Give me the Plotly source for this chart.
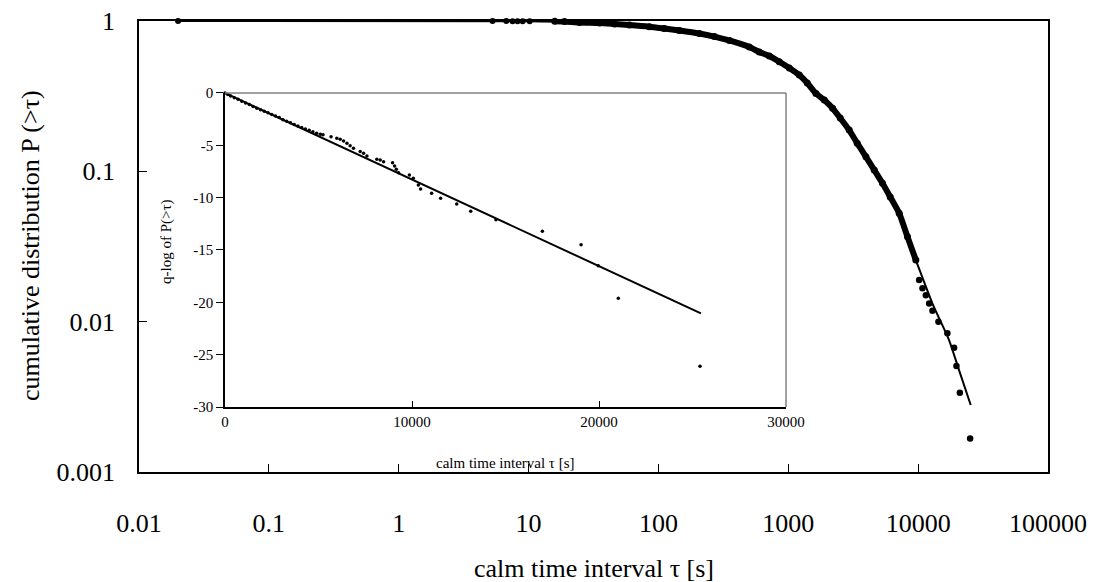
import plotly.graph_objects as go

# ---------------- data ----------------
# main panel: cumulative distribution P(>tau) vs calm time interval tau [s]
sparse_tau = [0.02, 5.28, 6.73, 7.53, 8.23, 9.0, 10.2]
sparse_P = [1.0, 0.999, 0.999, 0.998, 0.998, 0.998, 0.997]

dense_tau = [15.9, 18.9, 24.7, 35.2, 45.9, 59.8, 85.3, 111, 145, 207, 270, 352,
             501, 598, 714, 853, 1018, 1216, 1400, 1633, 1892, 2193, 2512, 2945,
             3394, 3963, 4592, 5315, 6095, 7147, 8279, 9598]
dense_P = [0.995, 0.992, 0.977, 0.970, 0.955, 0.940, 0.916, 0.891, 0.865, 0.826,
           0.788, 0.742, 0.671, 0.622, 0.585, 0.536, 0.487, 0.437, 0.387, 0.330,
           0.298, 0.263, 0.226, 0.188, 0.154, 0.125, 0.102, 0.0832, 0.0675,
           0.0526, 0.0367, 0.0257]

tail_tau = [10180, 10800, 11460, 12160, 12890, 14330, 16790, 18920, 19720, 20950, 25130]
tail_P = [0.0189, 0.0167, 0.0150, 0.0132, 0.0118, 0.0100, 0.00836, 0.0067,
          0.00507, 0.00336, 0.00167]

fit_tau = [0.02, 10, 35, 85, 207, 352, 598, 1018, 1633, 2512, 3963, 5315, 7147,
           9598, 12890, 17300, 20650, 25400]
fit_P = [1.0, 0.995, 0.975, 0.93, 0.84, 0.75, 0.63, 0.48, 0.33, 0.225, 0.123,
         0.0832, 0.050, 0.0257, 0.0132, 0.00755, 0.00476, 0.00279]

main_xticks = [0.01, 0.1, 1, 10, 100, 1000, 10000, 100000]
main_xticktext = ["0.01", "0.1", "1", "10", "100", "1000", "10000", "100000"]
main_yticks = [0.001, 0.01, 0.1, 1]
main_yticktext = ["0.001", "0.01", "0.1", "1"]

# inset: q-log of P(>tau) vs tau
inset_tau = [0, 150, 300, 500, 700, 900, 1100, 1300, 1500, 1700, 1900, 2100, 2300,
             2500, 2700, 2900, 3100, 3300, 3500, 3700, 3900, 4100, 4300, 4500,
             4700, 4900, 5100, 5240, 5670, 5980, 6160, 6340, 6520, 6690, 6870,
             7230, 7410, 7590, 8120, 8300, 8480, 8960, 9070, 9160, 9280, 9860,
             10070, 10340, 10460, 11050, 11530, 12390, 13140, 14490, 16970,
             19040, 19960, 21030, 25400]
inset_qlog = [0, -0.15, -0.28, -0.45, -0.6, -0.78, -0.95, -1.1, -1.3, -1.45, -1.6,
              -1.75, -1.9, -2.05, -2.2, -2.35, -2.55, -2.7, -2.85, -3.0, -3.15,
              -3.3, -3.45, -3.55, -3.7, -3.85, -3.95, -4.0, -4.17, -4.33, -4.42,
              -4.58, -4.80, -5.03, -5.28, -5.6, -5.76, -6.02, -6.33, -6.4, -6.56,
              -6.66, -6.97, -7.29, -7.61, -7.84, -8.15, -8.79, -9.17, -9.58,
              -10.06, -10.6, -11.3, -12.1, -13.2, -14.5, -16.5, -19.6, -26.1]
inset_fit_tau = [0, 25450]
inset_fit_qlog = [0, -21.05]

inset_xticks = [0, 10000, 20000, 30000]
inset_xticktext = ["0", "10000", "20000", "30000"]
inset_yticks = [0, -5, -10, -15, -20, -25, -30]
inset_yticktext = ["0", "-5", "-10", "-15", "-20", "-25", "-30"]

FONT = "Liberation Serif"

fig = go.Figure()

# main panel
fig.add_trace(go.Scatter(x=fit_tau, y=fit_P, mode="lines",
                         line=dict(color="black", width=2, shape="spline", smoothing=0.6),
                         xaxis="x", yaxis="y", cliponaxis=False, hoverinfo="skip"))
fig.add_trace(go.Scatter(x=sparse_tau, y=sparse_P, mode="markers", marker=dict(color="black", size=6),
                         xaxis="x", yaxis="y", cliponaxis=False))
fig.add_trace(go.Scatter(x=dense_tau, y=dense_P, mode="lines+markers",
                         line=dict(color="black", width=6, shape="spline", smoothing=0.6),
                         marker=dict(color="black", size=7), xaxis="x", yaxis="y", cliponaxis=False))
fig.add_trace(go.Scatter(x=tail_tau, y=tail_P, mode="markers", marker=dict(color="black", size=6.5),
                         xaxis="x", yaxis="y", cliponaxis=False))

# inset
fig.add_trace(go.Scatter(x=inset_fit_tau, y=inset_fit_qlog, mode="lines", line=dict(color="black", width=2),
                         xaxis="x2", yaxis="y2", hoverinfo="skip"))
fig.add_trace(go.Scatter(x=inset_tau, y=inset_qlog, mode="markers", marker=dict(color="black", size=3.5),
                         xaxis="x2", yaxis="y2", cliponaxis=False))

ix0, ix1 = 0.0946, 0.7118
iy0, iy1 = 0.1441, 0.8404

fig.update_layout(
    width=1092, height=574,
    margin=dict(l=131, r=52, t=13, b=110, autoexpand=False),
    paper_bgcolor="white", plot_bgcolor="white",
    showlegend=False,
    font=dict(family=FONT, color="black"),
    xaxis=dict(type="log", range=[-2, 5], domain=[0, 1], tickvals=main_xticks, ticktext=main_xticktext,
               ticks="inside", ticklen=8, tickwidth=1, tickcolor="black", automargin=False,
               showline=True, linecolor="black", linewidth=1.5, mirror=True,
               showgrid=False, zeroline=False, tickfont=dict(size=26, family=FONT),
               ticklabelstandoff=27, ticklabeloverflow="allow"),
    yaxis=dict(type="log", range=[-3, 0], domain=[0, 1], tickvals=main_yticks, ticktext=main_yticktext,
               ticks="inside", ticklen=8, tickwidth=1, tickcolor="black", automargin=False,
               showline=True, linecolor="black", linewidth=1.5, mirror=True,
               showgrid=False, zeroline=False, tickfont=dict(size=26, family=FONT),
               ticklabelstandoff=17, ticklabeloverflow="allow"),
    xaxis2=dict(range=[0, 30000], domain=[ix0, ix1], anchor="y2", tickvals=inset_xticks,
                ticktext=inset_xticktext, automargin=False,
                ticks="inside", ticklen=6, tickwidth=1, tickcolor="black",
                showline=True, linecolor="black", linewidth=1.5,
                showgrid=False, zeroline=False, tickfont=dict(size=15, family=FONT),
                ticklabelstandoff=0),
    yaxis2=dict(range=[-30, 0], domain=[iy0, iy1], anchor="x2", tickvals=inset_yticks,
                ticktext=inset_yticktext, automargin=False,
                ticks="outside", ticklen=7, tickwidth=1, tickcolor="black",
                showline=True, linecolor="black", linewidth=1.5,
                showgrid=False, zeroline=False, tickfont=dict(size=15, family=FONT)),
    shapes=[
        dict(type="line", xref="x2 domain", yref="y2 domain", x0=0, x1=1, y0=1, y1=1,
             line=dict(color="#808080", width=1.5)),
        dict(type="line", xref="x2 domain", yref="y2 domain", x0=1, x1=1, y0=0, y1=1,
             line=dict(color="#808080", width=1.5)),
    ],
    annotations=[
        dict(text="calm time interval τ [s]", xref="paper", yref="paper", x=0.5, y=-0.2129,
             showarrow=False, font=dict(size=26, family=FONT), xanchor="center", yanchor="middle"),
        dict(text="cumulative distribution P (>τ)", xref="paper", yref="paper", x=-0.12, y=0.503,
             showarrow=False, textangle=-90, font=dict(size=26, family=FONT), xanchor="center", yanchor="middle"),
        dict(text="calm time interval τ [s]", xref="paper", yref="paper", x=0.4026, y=0.02,
             showarrow=False, font=dict(size=15, family=FONT), xanchor="center", yanchor="middle"),
        dict(text="q-log of P(>τ)", xref="paper", yref="paper", x=0.0308, y=0.51,
             showarrow=False, textangle=-90, font=dict(size=15, family=FONT), xanchor="center", yanchor="middle"),
    ],
)

fig.write_html("out.html")
